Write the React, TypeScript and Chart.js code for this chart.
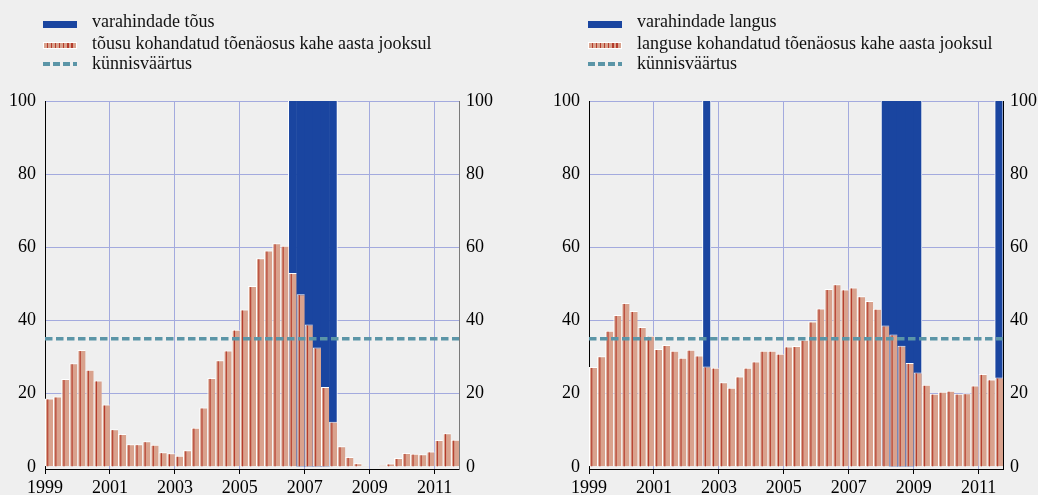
import React, { useEffect, useRef } from "react";
import { Chart, registerables } from "chart.js";

Chart.register(...registerables);

// ---------- data ----------
const years: number[] = [1999, 2000, 2001, 2002, 2003, 2004, 2005, 2006, 2007, 2008, 2009, 2010, 2011];
const quarters: string[] = years
  .flatMap((y) => ["Q1", "Q2", "Q3", "Q4"].map((q) => `${y}${q}`))
  .slice(0, 51); // 1999Q1 .. 2011Q3

const yearTicks: number[] = [1999, 2001, 2003, 2005, 2007, 2009, 2011];
const valueTicks: number[] = [0, 20, 40, 60, 80, 100];

// left panel: price boom
const riseLabels: string[] = [
  "varahindade tõus",
  "tõusu kohandatud tõenäosus kahe aasta jooksul",
  "künnisväärtus",
];
const riseProbability: number[] = [
  18.7, 19.2, 24.0, 28.3, 31.9, 26.5, 23.6, 17.0,
  10.3, 9.0, 6.2, 6.2, 7.0, 6.0, 4.0, 3.7,
  3.0, 4.5, 10.7, 16.2, 24.3, 29.1, 31.8, 37.5,
  43.0, 49.4, 57.0, 59.1, 61.1, 60.4, 53.0, 47.2,
  38.9, 32.6, 21.8, 12.3, 5.6, 2.7, 1.0, 0.3,
  0.2, 0.4, 0.9, 2.4, 3.8, 3.6, 3.4, 4.2,
  7.3, 9.2, 7.4,
];
const riseEventQuarters: string[] = ["2006Q3", "2006Q4", "2007Q1", "2007Q2", "2007Q3", "2007Q4"];

// right panel: price bust
const fallLabels: string[] = [
  "varahindade langus",
  "languse kohandatud tõenäosus kahe aasta jooksul",
  "künnisväärtus",
];
const fallProbability: number[] = [
  27.3, 30.2, 37.2, 41.5, 44.8, 42.6, 38.2, 35.8,
  32.2, 33.3, 31.7, 29.8, 32.0, 30.4, 27.4, 27.1,
  23.1, 21.6, 24.7, 27.1, 28.8, 31.7, 31.7, 30.9,
  32.9, 33.0, 34.7, 39.7, 43.3, 48.6, 49.9, 48.5,
  49.0, 46.6, 45.3, 43.2, 38.6, 36.2, 33.1, 28.4,
  25.8, 22.4, 20.0, 20.5, 20.8, 20.0, 20.1, 22.2,
  25.4, 23.9, 24.4,
];
const fallEventQuarters: string[] = ["2002Q3", "2008Q1", "2008Q2", "2008Q3", "2008Q4", "2009Q1", "2011Q3"];

const threshold = 35;
const eventLevel = 100;

// ---------- style ----------
const BG = "#efefef";
const GRID = "#a3aade";
const BLUE = "#1a45a0";
const SALMON = "#d9a28d";
const STRIPE = "#b43b2c";
const TEAL = "#5b95a7";
const FONT = '"Liberation Serif", "Times New Roman", serif';
const TRANSPARENT = "rgba(0,0,0,0)";

const X_MIN = 1999;
const X_MAX = 2011.75;
const Y_MIN = -0.6;
const Y_MAX = 100;

function quarterToX(q: string): number {
  const y = Number(q.slice(0, 4));
  const n = Number(q.slice(5));
  return y + (n - 1) * 0.25 + 0.125;
}

const stripePlugin = {
  id: "barStripes",
  afterDatasetDraw(chart: any, args: any) {
    const ds: any = chart.data.datasets[args.index];
    if (!ds.stripe) return;
    const ctx = chart.ctx;
    ctx.save();
    ctx.fillStyle = STRIPE;
    args.meta.data.forEach((el: any, i: number) => {
      const v = ds.data[i]?.y;
      if (v == null) return;
      const { x, y, base, width } = el.getProps(["x", "y", "base", "width"], true);
      const left = x - width / 2;
      const h = base - y - 1;
      if (h <= 0) return;
      ctx.fillRect(left + 2.2, y + 1, 1.1, h);
    });
    ctx.restore();
  },
};

interface PanelProps {
  left: number;
  probs: number[];
  events: string[];
  labels: string[];
  axisLeftWidth: number;
  axisRightWidth: number;
  rightBorder: string;
  legendLeft: number;
}

function Panel(p: PanelProps) {
  const ref = useRef<HTMLCanvasElement>(null);
  useEffect(() => {
    const xs = quarters.map(quarterToX);
    const font = { family: FONT, size: 18 };
    const chart = new Chart(ref.current as HTMLCanvasElement, {
      type: "bar",
      data: {
        datasets: [
          {
            type: "line",
            label: p.labels[2],
            data: [
              { x: X_MIN, y: threshold },
              { x: X_MAX, y: threshold },
            ],
            borderColor: TEAL,
            borderWidth: 3.5,
            borderDash: [7.5, 3.5],
            pointRadius: 0,
            order: 0,
          } as any,
          {
            type: "bar",
            label: p.labels[1],
            data: quarters.map((q, i) => ({ x: xs[i], y: p.probs[i] })),
            backgroundColor: SALMON,
            borderColor: "#ffffff",
            borderWidth: { left: 1, right: 0, top: 1, bottom: 0 },
            barPercentage: 1,
            categoryPercentage: 1,
            grouped: false,
            inflateAmount: 0,
            order: 1,
            stripe: true,
          } as any,
          {
            type: "bar",
            label: p.labels[0],
            data: quarters.map((q, i) => ({ x: xs[i], y: p.events.includes(q) ? eventLevel : null })),
            backgroundColor: BLUE,
            borderColor: "#ffffff",
            borderWidth: (c: any) => {
              const d = c.dataset.data;
              const i = c.dataIndex;
              const prev = i > 0 ? d[i - 1].y : null;
              const next = i < d.length - 1 ? d[i + 1].y : null;
              return { left: prev == null ? 1 : 0, right: next == null ? 1 : 0, top: 0, bottom: 0 };
            },
            barPercentage: 1,
            categoryPercentage: 1,
            grouped: false,
            inflateAmount: 0.5,
            base: 0.3,
            order: 2,
          } as any,
        ],
      },
      options: {
        animation: false,
        responsive: false,
        layout: { padding: { top: 101, left: 0, right: 0, bottom: 0 } },
        plugins: { legend: { display: false }, tooltip: { enabled: false } },
        scales: {
          x: {
            type: "linear",
            min: X_MIN,
            max: X_MAX,
            offset: false,
            afterBuildTicks: (s: any) => {
              s.ticks = yearTicks.map((v) => ({ value: v }));
            },
            afterFit: (s: any) => {
              s.height = 26;
            },
            ticks: {
              font,
              color: "#000",
              padding: 3,
              maxRotation: 0,
              autoSkip: false,
              callback: (v: any) => String(v),
            },
            grid: {
              offset: false,
              color: (c: any) => (c.tick && c.tick.value === X_MIN ? TRANSPARENT : GRID),
              tickColor: "#000",
              tickLength: 5,
              lineWidth: 1,
            },
            border: { color: "#000", width: 1 },
          },
          y: {
            type: "linear",
            position: "left",
            min: Y_MIN,
            max: Y_MAX,
            afterBuildTicks: (s: any) => {
              s.ticks = valueTicks.map((v) => ({ value: v }));
            },
            afterFit: (s: any) => {
              s.width = p.axisLeftWidth;
            },
            ticks: { font, color: "#000", padding: 9 },
            grid: {
              color: (c: any) => (c.tick && c.tick.value === 0 ? TRANSPARENT : GRID),
              drawTicks: false,
            },
            border: { color: "#000", width: 1 },
          },
          y2: {
            type: "linear",
            position: "right",
            min: Y_MIN,
            max: Y_MAX,
            afterBuildTicks: (s: any) => {
              s.ticks = valueTicks.map((v) => ({ value: v }));
            },
            afterFit: (s: any) => {
              s.width = p.axisRightWidth;
            },
            ticks: { font, color: "#000", padding: 7 },
            grid: { drawOnChartArea: false, drawTicks: false },
            border: { color: p.rightBorder, width: 1 },
          },
        },
      } as any,
      plugins: [stripePlugin],
    });
    return () => chart.destroy();
  }, []);

  const markerLeft = p.legendLeft;
  const textLeft = p.legendLeft + 49;
  const rowStyle: React.CSSProperties = {
    position: "absolute",
    left: textLeft,
    fontFamily: FONT,
    fontSize: 18,
    lineHeight: "21px",
    whiteSpace: "nowrap",
    color: "#111",
  };
  return (
    <div style={{ position: "absolute", left: p.left, top: 0, width: 519, height: 495 }}>
      <canvas ref={ref} width={519} height={495} style={{ position: "absolute", left: 0, top: 0 }} />
      <div style={{ position: "absolute", left: markerLeft, top: 21, width: 34, height: 6.5, background: BLUE }} />
      <div
        style={{
          position: "absolute",
          left: markerLeft,
          top: 41.7,
          width: 34,
          height: 7.6,
          boxSizing: "border-box",
          border: "1px solid #fff",
          background: `repeating-linear-gradient(to right, ${SALMON} 0px, ${SALMON} 2.9px, ${STRIPE} 2.9px, ${STRIPE} 4.1px)`,
        }}
      />
      <div
        style={{
          position: "absolute",
          left: markerLeft,
          top: 62.3,
          width: 34,
          height: 4,
          background: `repeating-linear-gradient(to right, ${TEAL} 0px, ${TEAL} 6.7px, transparent 6.7px, transparent 10px)`,
        }}
      />
      <div style={{ ...rowStyle, top: 11.4 }}>{p.labels[0]}</div>
      <div style={{ ...rowStyle, top: 32.6 }}>{p.labels[1]}</div>
      <div style={{ ...rowStyle, top: 53.4 }}>{p.labels[2]}</div>
    </div>
  );
}

export default function App() {
  return (
    <div style={{ position: "absolute", left: 0, top: 0, width: 1038, height: 495, background: BG, overflow: "hidden" }}>
      <Panel
        left={0}
        probs={riseProbability}
        events={riseEventQuarters}
        labels={riseLabels}
        axisLeftWidth={45}
        axisRightWidth={60}
        rightBorder="#7a7a7a"
        legendLeft={43}
      />
      <Panel
        left={519}
        probs={fallProbability}
        events={fallEventQuarters}
        labels={fallLabels}
        axisLeftWidth={70}
        axisRightWidth={35}
        rightBorder="#000"
        legendLeft={69}
      />
    </div>
  );
}
